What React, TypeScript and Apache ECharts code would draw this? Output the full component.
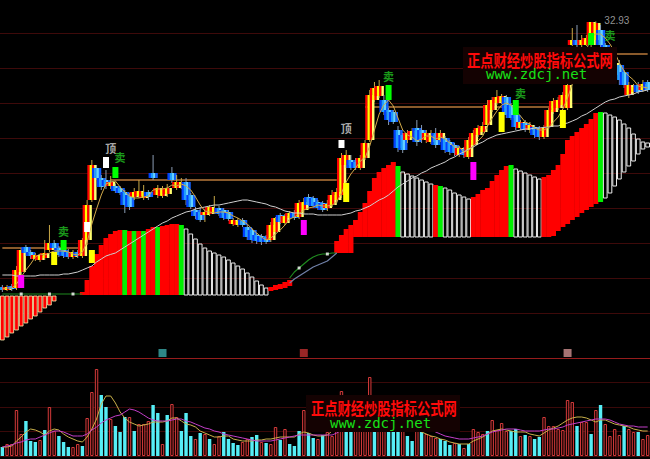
import React, { useEffect, useRef } from 'react';
import * as echarts from 'echarts';

// ---------- price pane data (138 trading days) ----------
const openP = [
  19.65, 19.50, 19.70, 19.60, 20.40, 21.65, 21.40, 21.05, 21.00, 21.10,
  21.50, 21.85, 21.60, 21.50, 21.40, 21.15, 21.40, 21.20, 22.00, 24.00,
  25.60, 25.10, 25.00, 24.70, 24.70, 24.60, 24.40, 24.25, 24.15, 24.20,
  24.10, 24.40, 25.35, 24.25, 24.20, 24.30, 25.35, 24.60, 24.70, 24.90,
  24.25, 23.50, 23.40, 23.25, 23.30, 23.40, 23.60, 23.50, 23.40, 22.80,
  22.75, 23.00, 22.65, 22.50, 22.25, 22.20, 22.15, 22.00, 22.40, 23.25,
  22.85, 23.10, 23.35, 23.15, 23.50, 24.15, 24.10, 23.90, 23.85, 23.60,
  23.75, 24.00, 24.25, 25.75, 26.00, 25.90, 25.60, 26.10, 27.00, 29.00,
  29.20, 29.00, 28.50, 28.40, 27.50, 27.25, 27.00, 27.10, 27.60, 27.50,
  27.00, 26.90, 27.35, 27.00, 27.10, 26.90, 26.75, 26.25, 26.55, 26.15,
  26.75, 27.25, 27.40, 27.75, 28.50, 28.85, 28.90, 29.15, 28.75, 28.25,
  27.60, 27.85, 27.50, 27.65, 27.60, 27.15, 27.65, 28.40, 28.60, 28.75,
  28.60, 31.75, 32.00, 31.75, 31.75, 31.75, 32.00, 32.50, 31.75, 31.10,
  30.25, 30.75, 30.40, 29.25, 29.40, 29.75, 29.50, 29.90,
];
const closeP = [
  19.50, 19.65, 19.55, 20.50, 21.50, 21.35, 21.20, 21.25, 21.20, 21.35,
  21.85, 21.60, 21.25, 21.20, 21.15, 21.40, 21.20, 22.00, 23.75, 25.75,
  25.10, 24.65, 24.70, 24.90, 24.45, 24.35, 23.75, 23.65, 24.40, 24.45,
  24.40, 24.15, 25.10, 24.60, 24.50, 24.60, 25.00, 24.90, 24.90, 24.00,
  23.65, 23.20, 23.00, 23.40, 23.65, 23.60, 23.30, 23.10, 23.05, 23.00,
  22.95, 22.75, 22.15, 22.00, 21.95, 21.90, 21.90, 22.75, 23.10, 22.90,
  23.20, 23.35, 23.10, 23.85, 23.90, 23.75, 23.70, 23.60, 23.50, 23.80,
  24.25, 24.40, 26.10, 26.25, 25.60, 25.60, 26.10, 26.85, 29.25, 29.60,
  29.70, 28.40, 28.00, 27.90, 26.60, 26.50, 27.35, 27.45, 26.90, 27.00,
  27.35, 27.25, 26.75, 27.35, 26.50, 26.40, 26.35, 26.60, 26.25, 27.00,
  27.35, 27.60, 27.70, 28.75, 29.00, 29.15, 29.20, 28.25, 28.10, 27.65,
  27.90, 27.50, 27.75, 27.25, 27.15, 27.60, 28.50, 28.95, 29.00, 29.25,
  29.75, 32.00, 31.75, 32.00, 32.10, 32.90, 32.85, 31.75, 31.00, 30.60,
  30.85, 30.00, 29.75, 29.75, 29.65, 29.40, 29.80, 29.50,
];
const highP = [
  19.75, 19.75, 19.80, 20.70, 21.60, 21.75, 21.50, 21.35, 21.30, 22.00,
  22.75, 22.00, 21.70, 21.60, 21.55, 21.50, 21.50, 22.10, 24.00, 26.00,
  25.75, 25.25, 25.50, 25.20, 24.80, 24.70, 24.50, 24.35, 24.60, 25.00,
  24.75, 24.50, 26.25, 24.75, 24.70, 24.80, 25.65, 25.25, 25.10, 25.10,
  24.35, 23.65, 23.65, 23.55, 23.75, 24.20, 23.70, 23.60, 23.50, 23.10,
  23.10, 23.10, 22.75, 22.60, 22.35, 22.30, 22.25, 22.90, 23.15, 23.35,
  23.30, 23.45, 23.50, 24.00, 24.10, 24.30, 24.20, 24.00, 23.95, 24.00,
  24.50, 24.60, 26.35, 26.50, 26.25, 26.10, 26.25, 27.00, 29.50, 29.90,
  30.00, 29.25, 28.60, 28.50, 27.70, 27.35, 27.50, 27.60, 28.00, 27.75,
  27.50, 27.50, 27.60, 27.50, 27.20, 27.00, 26.85, 26.70, 26.65, 27.15,
  27.50, 27.75, 27.90, 29.00, 29.15, 29.50, 29.30, 29.25, 28.85, 28.35,
  28.00, 28.00, 27.90, 27.75, 27.70, 27.75, 28.60, 29.10, 29.15, 29.40,
  29.90, 32.60, 32.75, 32.25, 32.25, 32.90, 32.93, 32.75, 31.85, 31.25,
  31.50, 31.00, 30.50, 29.90, 29.80, 29.90, 30.00, 30.00,
];
const lowP = [
  19.40, 19.45, 19.45, 19.50, 20.25, 21.20, 21.05, 20.95, 20.90, 21.00,
  21.40, 21.50, 21.15, 21.10, 21.05, 21.05, 21.10, 21.10, 21.75, 23.90,
  25.00, 24.50, 24.55, 24.55, 24.35, 24.25, 23.35, 23.50, 24.00, 24.10,
  24.00, 24.00, 25.00, 24.10, 24.10, 24.15, 24.85, 24.50, 24.55, 23.75,
  23.55, 23.05, 22.90, 22.90, 23.20, 23.30, 23.20, 23.00, 22.95, 22.70,
  22.65, 22.65, 22.00, 21.85, 21.80, 21.75, 21.80, 21.90, 22.25, 22.80,
  22.75, 23.00, 23.00, 23.05, 23.30, 23.60, 23.60, 23.50, 23.40, 23.45,
  23.65, 23.85, 24.10, 25.60, 25.50, 25.50, 25.50, 26.00, 26.90, 28.90,
  29.10, 28.25, 27.75, 27.80, 26.40, 26.35, 26.85, 27.00, 26.70, 26.85,
  26.85, 26.80, 26.60, 26.90, 26.35, 26.25, 26.20, 26.15, 26.10, 26.05,
  26.65, 27.15, 27.30, 27.65, 28.40, 28.75, 28.80, 28.10, 28.00, 27.50,
  27.50, 27.40, 27.35, 27.10, 27.00, 27.05, 27.55, 28.30, 28.50, 28.65,
  28.50, 31.70, 31.65, 31.65, 31.70, 31.65, 31.75, 31.65, 30.90, 30.50,
  30.10, 29.75, 29.60, 29.10, 29.25, 29.30, 29.40, 29.40,
];
const maShort = [
  19.55, 19.60, 19.60, 19.80, 20.15, 20.50, 20.80, 21.15, 21.30, 21.25,
  21.35, 21.45, 21.45, 21.45, 21.40, 21.30, 21.25, 21.40, 21.90, 22.80,
  23.55, 24.25, 24.80, 24.90, 24.95, 24.65, 24.40, 24.20, 24.10, 24.10,
  24.15, 24.20, 24.50, 24.55, 24.55, 24.60, 24.75, 24.70, 24.80, 24.70,
  24.50, 24.15, 23.75, 23.45, 23.40, 23.35, 23.40, 23.40, 23.35, 23.20,
  23.10, 22.95, 22.80, 22.55, 22.35, 22.15, 22.00, 22.10, 22.30, 22.50,
  22.75, 23.05, 23.15, 23.30, 23.50, 23.60, 23.65, 23.75, 23.70, 23.70,
  23.75, 23.90, 24.35, 24.90, 25.30, 25.60, 25.95, 26.10, 26.70, 27.50,
  28.30, 28.75, 29.00, 28.70, 28.10, 27.50, 27.25, 27.15, 26.95, 27.05,
  27.20, 27.20, 27.05, 27.15, 27.05, 26.85, 26.65, 26.65, 26.40, 26.50,
  26.70, 26.95, 27.20, 27.70, 28.10, 28.45, 28.75, 28.85, 28.75, 28.45,
  28.20, 27.90, 27.80, 27.60, 27.50, 27.50, 27.65, 27.90, 28.15, 28.55,
  29.10, 29.80, 30.35, 30.95, 31.50, 32.15, 32.30, 32.30, 32.10, 31.80,
  31.40, 30.85, 30.45, 30.20, 30.00, 29.70, 29.65, 29.60,
];
const maLong = [
  20.25, 20.25, 20.25, 20.20, 20.20, 20.20, 20.20, 20.20, 20.25, 20.25,
  20.25, 20.25, 20.25, 20.30, 20.30, 20.35, 20.40, 20.50, 20.60, 20.70,
  20.90, 21.05, 21.20, 21.28, 21.35, 21.50, 21.65, 21.80, 21.95, 22.10,
  22.25, 22.40, 22.55, 22.70, 22.85, 22.95, 23.10, 23.20, 23.30, 23.40,
  23.45, 23.55, 23.60, 23.65, 23.70, 23.75, 23.75, 23.80, 23.85, 23.90,
  23.95, 24.00, 24.00, 23.95, 23.90, 23.85, 23.80, 23.70, 23.65, 23.55,
  23.45, 23.40, 23.35, 23.35, 23.30, 23.30, 23.30, 23.25, 23.25, 23.25,
  23.25, 23.25, 23.25, 23.30, 23.35, 23.45, 23.50, 23.60, 23.70, 23.85,
  24.00, 24.10, 24.25, 24.45, 24.65, 24.80, 24.95, 25.10, 25.20, 25.35,
  25.45, 25.60, 25.70, 25.80, 25.90, 26.05, 26.15, 26.30, 26.40, 26.55,
  26.65, 26.80, 26.90, 27.05, 27.15, 27.25, 27.30, 27.35, 27.40, 27.45,
  27.50, 27.55, 27.55, 27.60, 27.60, 27.63, 27.65, 27.70, 27.70, 27.80,
  27.85, 27.95, 28.05, 28.20, 28.30, 28.45, 28.60, 28.75, 28.90, 29.00,
  29.05, 29.15, 29.20, 29.25, 29.30, 29.40, 29.45, 29.50,
];

// ---------- stepped indicator (floating sticks) ----------
// N = red w/ outline below zero, R = red, G = green, W = white hollow, - = none
const ladType =
  'NNNNNNNNNNNN-----RRRRRRRRRGRGRGRRGRRRRGWWWWWWWWWWWWWWWWWWRRRRR---------RRRRRRRRRRRRRGWWWWWWWRGWWWWWWRRRRRRRRGWWWWWWRRRRRRRRRRRRGWWWWWWWWWW';
const ladHi = [
  19.20, 19.20, 19.20, 19.20, 19.20, 19.20, 19.20, 19.20, 19.20, 19.20, 19.20, 19.20,
  null, null, null, null, null,
  19.40, 20.00, 20.70, 21.30, 21.75, 22.10, 22.30, 22.45, 22.50, 22.50, 22.45, 22.45, 22.45, 22.45,
  22.55, 22.65, 22.65, 22.70, 22.75, 22.80, 22.80, 22.75,
  22.55, 22.30, 22.05, 21.80, 21.60, 21.45, 21.35, 21.25, 21.15, 21.00, 20.85, 20.70, 20.55, 20.35,
  20.15, 19.95, 19.75, 19.60,
  19.65, 19.75, 19.80, 19.90, 20.00,
  null, null, null, null, null, null, null, null, null,
  21.95, 22.25, 22.55, 22.75, 23.00, 23.40, 23.85, 24.45, 25.10, 25.40, 25.60, 25.75, 25.90, 25.70,
  25.40, 25.30, 25.20, 25.10, 25.00, 24.90, 24.80, 24.75, 24.70, 24.60, 24.50, 24.35, 24.25, 24.15, 24.05,
  24.15, 24.30, 24.50, 24.60, 24.95, 25.25, 25.50, 25.70, 25.75,
  25.55, 25.45, 25.35, 25.25, 25.15, 25.05,
  25.15, 25.25, 25.50, 25.75, 26.30, 27.00, 27.20, 27.40, 27.60, 27.80, 28.05, 28.35, 28.40,
  28.35, 28.25, 28.15, 28.00, 27.80, 27.60, 27.30, 27.05, 26.90, 26.85,
];
const ladLo = [
  17.00, 17.15, 17.35, 17.50, 17.70, 17.85, 18.05, 18.20, 18.40, 18.60, 18.75, 18.95,
  null, null, null, null, null,
  19.25, 19.25, 19.25, 19.25, 19.25, 19.25, 19.25, 19.25, 19.25, 19.25,
  19.25, 19.25, 19.25, 19.25, 19.25, 19.25, 19.25, 19.25, 19.25, 19.25,
  19.25, 19.25, 19.25, 19.25, 19.25, 19.25, 19.25, 19.25, 19.25, 19.25,
  19.25, 19.25, 19.25, 19.25, 19.25, 19.25, 19.25, 19.25, 19.25, 19.25,
  19.45, 19.50, 19.55, 19.60, 19.70,
  null, null, null, null, null, null, null, null, null,
  21.35, 21.35, 21.35, 21.35,
  22.15, 22.15, 22.15, 22.15, 22.15, 22.15, 22.15, 22.15, 22.15, 22.15,
  22.15, 22.15, 22.15, 22.15, 22.15, 22.15, 22.15, 22.15, 22.15, 22.15,
  22.15, 22.15, 22.15, 22.15, 22.15, 22.15, 22.15, 22.15, 22.15, 22.15,
  22.15, 22.15, 22.15, 22.15, 22.15, 22.15, 22.15, 22.15, 22.15, 22.15,
  22.15, 22.15,
  22.20, 22.45, 22.65, 22.80, 23.00, 23.15, 23.35, 23.50, 23.65, 23.80, 23.90,
  24.10, 24.35, 24.70, 25.05, 25.40, 25.70, 25.95, 26.30, 26.55, 26.65,
];
const greenBase = { start: 0, end: 17, value: 19.30 };
const greenRiseStart = 61;
const greenRise = [20.10, 20.40, 20.60, 20.80, 21.00, 21.15, 21.25, 21.30, 21.30, 21.35, 21.35];
const slateRise = [19.85, 20.05, 20.20, 20.35, 20.50, 20.65, 20.75, 20.85, 20.95, 21.15, 21.35];
const dotIdx = [4, 10, 15, 63, 69];
const dotVal = [19.30, 19.30, 19.30, 20.60, 21.30];

// horizontal resistance levels
const resStart = [0, 23, 77, 130];
const resEnd = [18, 71, 121, 137];
const resVal = [21.60, 25.00, 28.65, 31.30];

// signal boxes
const markIdx = [4, 11, 13, 18, 19, 22, 24, 64, 72, 73, 82, 100, 106, 109, 119, 125];
const markLo = [19.60, 20.75, 21.50, 22.40, 20.85, 25.60, 25.10, 22.25, 26.60, 23.90, 29.00, 25.00, 27.40, 28.25, 27.60, 31.75];
const markHi = [20.25, 21.40, 22.00, 22.90, 21.50, 26.15, 25.65, 23.00, 27.00, 24.85, 29.75, 25.90, 28.40, 29.00, 28.50, 32.35];
const markColor = ['#ff00ff', '#ffff00', '#00ff00', '#ffffff', '#ffff00', '#ffffff', '#00ff00', '#ff00ff',
  '#ffffff', '#ffff00', '#00ff00', '#ff00ff', '#ffff00', '#00ff00', '#ffff00', '#00ff00'];

const sellIdx = [13, 25, 82, 110, 129];
const sellVal = [22.45, 26.15, 30.20, 29.35, 32.25];
const topIdx = [23, 73];
const topVal = [26.60, 27.60];
const peakIdx = 126;
const peakVal = 32.93;
const infoIdx = [34, 64, 120];
const infoVal = 16.35;
const infoColor = ['#3aa8a8', '#c03030', '#d09090'];

// ---------- volume pane ----------
const vol = [
  9, 12, 12, 46, 22, 35, 15, 14, 16, 26,
  49, 25, 20, 14, 9, 9, 12, 10, 38, 64,
  87, 61, 49, 37, 30, 24, 39, 39, 25, 32,
  32, 35, 51, 43, 12, 41, 52, 39, 25, 43,
  20, 17, 23, 22, 17, 12, 20, 24, 17, 13,
  11, 14, 17, 19, 21, 14, 13, 12, 29, 16,
  27, 12, 10, 25, 46, 23, 18, 17, 21, 24,
  20, 30, 65, 42, 42, 40, 38, 35, 79, 40,
  38, 36, 38, 42, 40, 36, 20, 15, 25, 24,
  22, 20, 18, 17, 15, 11, 13, 12, 8, 12,
  27, 24, 22, 25, 36, 26, 33, 25, 25, 27,
  20, 21, 20, 17, 19, 39, 30, 30, 27, 26,
  56, 54, 30, 34, 34, 22, 46, 51, 32, 20,
  27, 21, 30, 27, 24, 24, 17, 21,
];
const volUp = [
  0, 1, 1, 1, 1, 0, 0, 0, 1, 0,
  1, 1, 0, 0, 0, 1, 1, 0, 1, 1,
  1, 0, 0, 1, 0, 0, 0, 1, 0, 1,
  1, 1, 0, 0, 1, 0, 1, 1, 0, 0,
  0, 1, 0, 1, 0, 1, 1, 0, 0, 0,
  0, 1, 1, 0, 0, 1, 0, 1, 1, 0,
  1, 0, 0, 0, 1, 0, 0, 1, 0, 1,
  1, 1, 1, 0, 0, 1, 1, 1, 1, 0,
  1, 1, 0, 0, 0, 1, 0, 0, 1, 0,
  1, 1, 1, 0, 0, 0, 1, 0, 1, 0,
  1, 1, 1, 0, 1, 1, 1, 1, 0, 0,
  1, 0, 1, 0, 0, 1, 1, 1, 1, 1,
  1, 1, 0, 1, 1, 0, 1, 0, 1, 1,
  1, 1, 0, 1, 1, 0, 1, 1,
];
const volMa5 = [
  9, 9, 10, 15, 19, 24, 27, 26, 24, 21,
  25, 27, 26, 22, 19, 17, 15, 14, 19, 27,
  37, 52, 60, 60, 53, 44, 38, 34, 32, 30,
  31, 32, 34, 34, 34, 35, 38, 38, 35, 32,
  31, 29, 25, 23, 21, 19, 19, 20, 20, 17,
  16, 15, 15, 15, 16, 16, 17, 17, 18, 19,
  19, 19, 19, 22, 24, 23, 21, 20, 20, 21,
  25, 29, 37, 41, 44, 47, 39, 37, 47, 47,
  45, 42, 37, 39, 37, 37, 32, 29, 27, 24,
  22, 20, 19, 17, 16, 14, 13, 12, 12, 12,
  15, 17, 19, 22, 25, 26, 27, 26, 25, 24,
  24, 24, 22, 21, 20, 23, 26, 28, 30, 33,
  36, 38, 39, 39, 38, 36, 34, 36, 36, 34,
  32, 31, 30, 29, 27, 26, 25, 25,
];
const volMa10 = [
  9, 10, 11, 13, 14, 16, 17, 17, 19, 21,
  23, 25, 25, 24, 22, 20, 20, 20, 22, 26,
  29, 33, 36, 38, 40, 41, 44, 47, 46, 44,
  41, 38, 36, 35, 35, 35, 36, 37, 37, 35,
  34, 32, 30, 28, 27, 25, 24, 22, 21, 20,
  19, 18, 17, 16, 15, 15, 15, 15, 16, 17,
  18, 19, 20, 21, 21, 21, 21, 21, 21, 21,
  21, 23, 26, 29, 32, 34, 36, 37, 39, 40,
  41, 41, 41, 40, 39, 38, 36, 34, 32, 30,
  28, 26, 24, 22, 20, 19, 18, 17, 17, 17,
  18, 19, 20, 22, 24, 25, 26, 27, 27, 27,
  26, 25, 25, 25, 25, 26, 27, 27, 28, 29,
  31, 32, 33, 34, 35, 36, 37, 37, 37, 36,
  34, 32, 31, 30, 30, 29, 29, 29,
];

const UP_STRIPES = ['#ff0000', '#ffff00', '#ff0000', '#ffff70'];
const DN_STRIPES = ['#0040ff', '#1f9dff', '#63d2ff', '#1060ff'];

function buildOption(): any {
  const cats = openP.map((_, i) => String(i));
  const candleData = openP.map((o, i) => [i, o, closeP[i], lowP[i], highP[i]]);
  const ladderData: any[] = [];
  ladHi.forEach((h, i) => {
    if (h !== null && ladLo[i] !== null) ladderData.push([i, h, ladLo[i], 'NRGW'.indexOf(ladType[i])]);
  });
  const markData = markIdx.map((j, k) => [j, markLo[k], markHi[k], k]);

  const labelScatter = (idx: number[], vals: number[], text: string, color: string, size: number) => ({
    type: 'scatter', xAxisIndex: 0, yAxisIndex: 0, z: 8, silent: true, clip: false,
    symbol: 'circle', symbolSize: 1, itemStyle: { color: 'rgba(0,0,0,0)' },
    data: idx.map((j, k) => [j, vals[k]]),
    label: { show: true, position: 'inside', formatter: text, color, fontSize: size,
      fontFamily: '"Noto Sans CJK SC", sans-serif', fontWeight: 'bold' },
  });

  const series: any[] = [];

  // stepped indicator sticks
  series.push({
    type: 'custom', xAxisIndex: 0, yAxisIndex: 0, z: 1, silent: true, clip: false,
    encode: { x: 0, y: [1, 2] },
    data: ladderData,
    renderItem: (params: any, api: any) => {
      const j = api.value(0);
      const pHi = api.coord([j, api.value(1)]);
      const pLo = api.coord([j, api.value(2)]);
      const t = api.value(3);
      const bw = api.size([1, 0])[0];
      const x = pHi[0];
      const top = pHi[1];
      const h = Math.max(pLo[1] - pHi[1], 1);
      if (t === 3) {
        return { type: 'rect', shape: { x: x - bw / 2 + 0.5, y: top, width: bw - 1, height: h },
          style: { fill: 'none', stroke: '#ececec', lineWidth: 1 } };
      }
      if (t === 0) {
        return { type: 'rect', shape: { x: x - bw / 2 + 0.5, y: top, width: bw - 1, height: h },
          style: { fill: '#ff0000', stroke: '#fff2b0', lineWidth: 0.8 } };
      }
      return { type: 'rect', shape: { x: x - bw / 2 - 0.2, y: top, width: bw + 0.4, height: h },
        style: { fill: t === 2 ? '#00f000' : '#ff0000' } };
    },
  });

  // indicator lines (green / slate)
  series.push({
    type: 'line', xAxisIndex: 0, yAxisIndex: 0, z: 2, silent: true, clip: false, symbol: 'none',
    data: [[greenBase.start, greenBase.value], [greenBase.end, greenBase.value]],
    lineStyle: { color: '#1f8a1f', width: 1.2 },
  });
  series.push({
    type: 'line', xAxisIndex: 0, yAxisIndex: 0, z: 2, silent: true, clip: false, symbol: 'none',
    data: greenRise.map((v, k) => [greenRiseStart + k, v]),
    lineStyle: { color: '#1f8a1f', width: 1.2 },
  });
  series.push({
    type: 'line', xAxisIndex: 0, yAxisIndex: 0, z: 2, silent: true, clip: false, symbol: 'none',
    data: slateRise.map((v, k) => [greenRiseStart + k, v]),
    lineStyle: { color: '#7080a8', width: 1.2 },
  });
  series.push({
    type: 'scatter', xAxisIndex: 0, yAxisIndex: 0, z: 3, silent: true, clip: false,
    symbol: 'rect', symbolSize: 3, itemStyle: { color: '#ffffff' },
    data: dotIdx.map((j, k) => [j, dotVal[k]]),
  });

  // resistance lines
  resStart.forEach((s, k) => {
    series.push({
      type: 'line', xAxisIndex: 0, yAxisIndex: 0, z: 2, silent: true, clip: false, symbol: 'none',
      data: [[s, resVal[k]], [resEnd[k], resVal[k]]],
      lineStyle: { color: '#b8783a', width: 1.5 },
    });
  });

  // rainbow candles
  series.push({
    type: 'custom', xAxisIndex: 0, yAxisIndex: 0, z: 4, silent: true, clip: false,
    encode: { x: 0, y: [1, 2, 3, 4] },
    data: candleData,
    renderItem: (params: any, api: any) => {
      const j = api.value(0);
      const o = api.value(1);
      const c = api.value(2);
      const po = api.coord([j, o]);
      const pc = api.coord([j, c]);
      const pl = api.coord([j, api.value(3)]);
      const ph = api.coord([j, api.value(4)]);
      const up = c >= o;
      const x = po[0];
      const w = 9;
      const top = Math.min(po[1], pc[1]);
      const hh = Math.max(Math.abs(po[1] - pc[1]), 1.5);
      const cols = up ? UP_STRIPES : DN_STRIPES;
      const sw = w / cols.length;
      const children: any[] = [
        { type: 'line', shape: { x1: x, y1: ph[1], x2: x, y2: pl[1] },
          style: { stroke: up ? '#c8a848' : '#8a9cb4', lineWidth: 1 } },
      ];
      cols.forEach((col, k) => {
        children.push({ type: 'rect', shape: { x: x - w / 2 + k * sw, y: top, width: sw + 0.2, height: hh },
          style: { fill: col } });
      });
      return { type: 'group', children };
    },
  });

  // moving averages
  series.push({
    type: 'line', xAxisIndex: 0, yAxisIndex: 0, z: 5, silent: true, clip: false, symbol: 'none',
    data: maLong, lineStyle: { color: '#cfcfcf', width: 1 },
  });
  series.push({
    type: 'line', xAxisIndex: 0, yAxisIndex: 0, z: 5, silent: true, clip: false, symbol: 'none',
    data: maShort, lineStyle: { color: '#d2aa4a', width: 1 },
  });

  // signal boxes
  series.push({
    type: 'custom', xAxisIndex: 0, yAxisIndex: 0, z: 6, silent: true, clip: false,
    encode: { x: 0, y: [1, 2] },
    data: markData,
    renderItem: (params: any, api: any) => {
      const j = api.value(0);
      const pLo = api.coord([j, api.value(1)]);
      const pHi = api.coord([j, api.value(2)]);
      const k = api.value(3);
      return { type: 'rect', shape: { x: pHi[0] - 3, y: pHi[1], width: 6, height: pLo[1] - pHi[1] },
        style: { fill: markColor[k] } };
    },
  });

  series.push(labelScatter(sellIdx, sellVal, '卖', '#22c422', 11));
  series.push(labelScatter(topIdx, topVal, '顶', '#d8d8d8', 11));
  series.push({
    type: 'scatter', xAxisIndex: 0, yAxisIndex: 0, z: 8, silent: true, clip: false,
    symbol: 'circle', symbolSize: 1, itemStyle: { color: 'rgba(0,0,0,0)' },
    data: [[peakIdx, peakVal]],
    label: { show: true, position: 'right', distance: 8, offset: [0, -1], formatter: '32.93', color: '#b8b8b8',
      fontSize: 10, fontFamily: '"Liberation Sans", Arial, sans-serif' },
  });
  series.push({
    type: 'scatter', xAxisIndex: 0, yAxisIndex: 0, z: 8, silent: true, clip: false,
    symbol: 'rect', symbolSize: [8, 8],
    data: infoIdx.map((j, k) => ({ value: [j, infoVal], itemStyle: { color: infoColor[k] } })),
  });

  // volume
  series.push({
    type: 'bar', xAxisIndex: 1, yAxisIndex: 2, z: 2, silent: true, barWidth: 3.4,
    data: vol.map((v, i) => ({
      value: v,
      itemStyle: volUp[i]
        ? { color: '#140000', borderColor: '#d23a3a', borderWidth: 1 }
        : { color: '#56eef6' },
    })),
  });
  series.push({
    type: 'line', xAxisIndex: 1, yAxisIndex: 2, z: 3, silent: true, symbol: 'none',
    data: volMa5, lineStyle: { color: '#c8b04a', width: 1 },
  });
  series.push({
    type: 'line', xAxisIndex: 1, yAxisIndex: 2, z: 3, silent: true, symbol: 'none',
    data: volMa10, lineStyle: { color: '#c23ec8', width: 1 },
  });

  const wm = (bx: number, by: number, tx: number, ty: number, ux: number, uy: number) => [
    { type: 'rect', z: 100, shape: { x: bx, y: by, width: 154, height: 37 }, style: { fill: '#140202' } },
    { type: 'text', z: 101, x: tx, y: ty, scaleX: 0.78,
      style: { text: '正点财经炒股指标公式网', fill: '#ff0a0a', align: 'left', verticalAlign: 'top',
        font: 'bold 17px "Noto Sans CJK SC", sans-serif' } },
    { type: 'text', z: 101, x: ux, y: uy,
      style: { text: 'www.zdcj.net', fill: '#18e018', align: 'left', verticalAlign: 'top',
        font: '14px "DejaVu Sans Mono", monospace' } },
  ];

  return {
    animation: false,
    backgroundColor: '#000000',
    grid: [
      { left: 0, right: 0, top: 33, height: 280 },
      { left: 0, right: 0, top: 358, height: 98 },
    ],
    xAxis: [
      { type: 'category', data: cats, gridIndex: 0, boundaryGap: true, show: false },
      { type: 'category', data: cats, gridIndex: 1, boundaryGap: true, position: 'top',
        axisLine: { show: true, onZero: false, lineStyle: { color: '#961c1c', width: 1 } },
        axisTick: { show: false }, axisLabel: { show: false }, splitLine: { show: false } },
    ],
    yAxis: [
      { type: 'value', gridIndex: 0, min: 18.35, max: 32.35, show: false },
      { type: 'value', gridIndex: 0, min: 0, max: 8, interval: 1,
        axisLine: { show: false }, axisTick: { show: false }, axisLabel: { show: false },
        splitLine: { show: true, lineStyle: { color: '#3e0a0a', width: 1 } } },
      { type: 'value', gridIndex: 1, min: 0, max: 98, interval: 24.5,
        axisLine: { show: false }, axisTick: { show: false }, axisLabel: { show: false },
        splitLine: { show: true, lineStyle: { color: '#3a0909', width: 1 } } },
    ],
    series,
    graphic: [
      ...wm(463, 47, 467, 51, 486, 67),
      ...wm(306, 395, 311, 399, 330, 416),
    ],
  };
}

export default function App() {
  const ref = useRef<HTMLDivElement>(null);
  useEffect(() => {
    if (!ref.current) return;
    const chart = echarts.init(ref.current, null, { renderer: 'svg', width: 650, height: 459 });
    chart.setOption(buildOption());
    return () => chart.dispose();
  }, []);
  return (
    <div
      ref={ref}
      style={{ position: 'fixed', left: 0, top: 0, width: 650, height: 459, background: '#000' }}
    />
  );
}
